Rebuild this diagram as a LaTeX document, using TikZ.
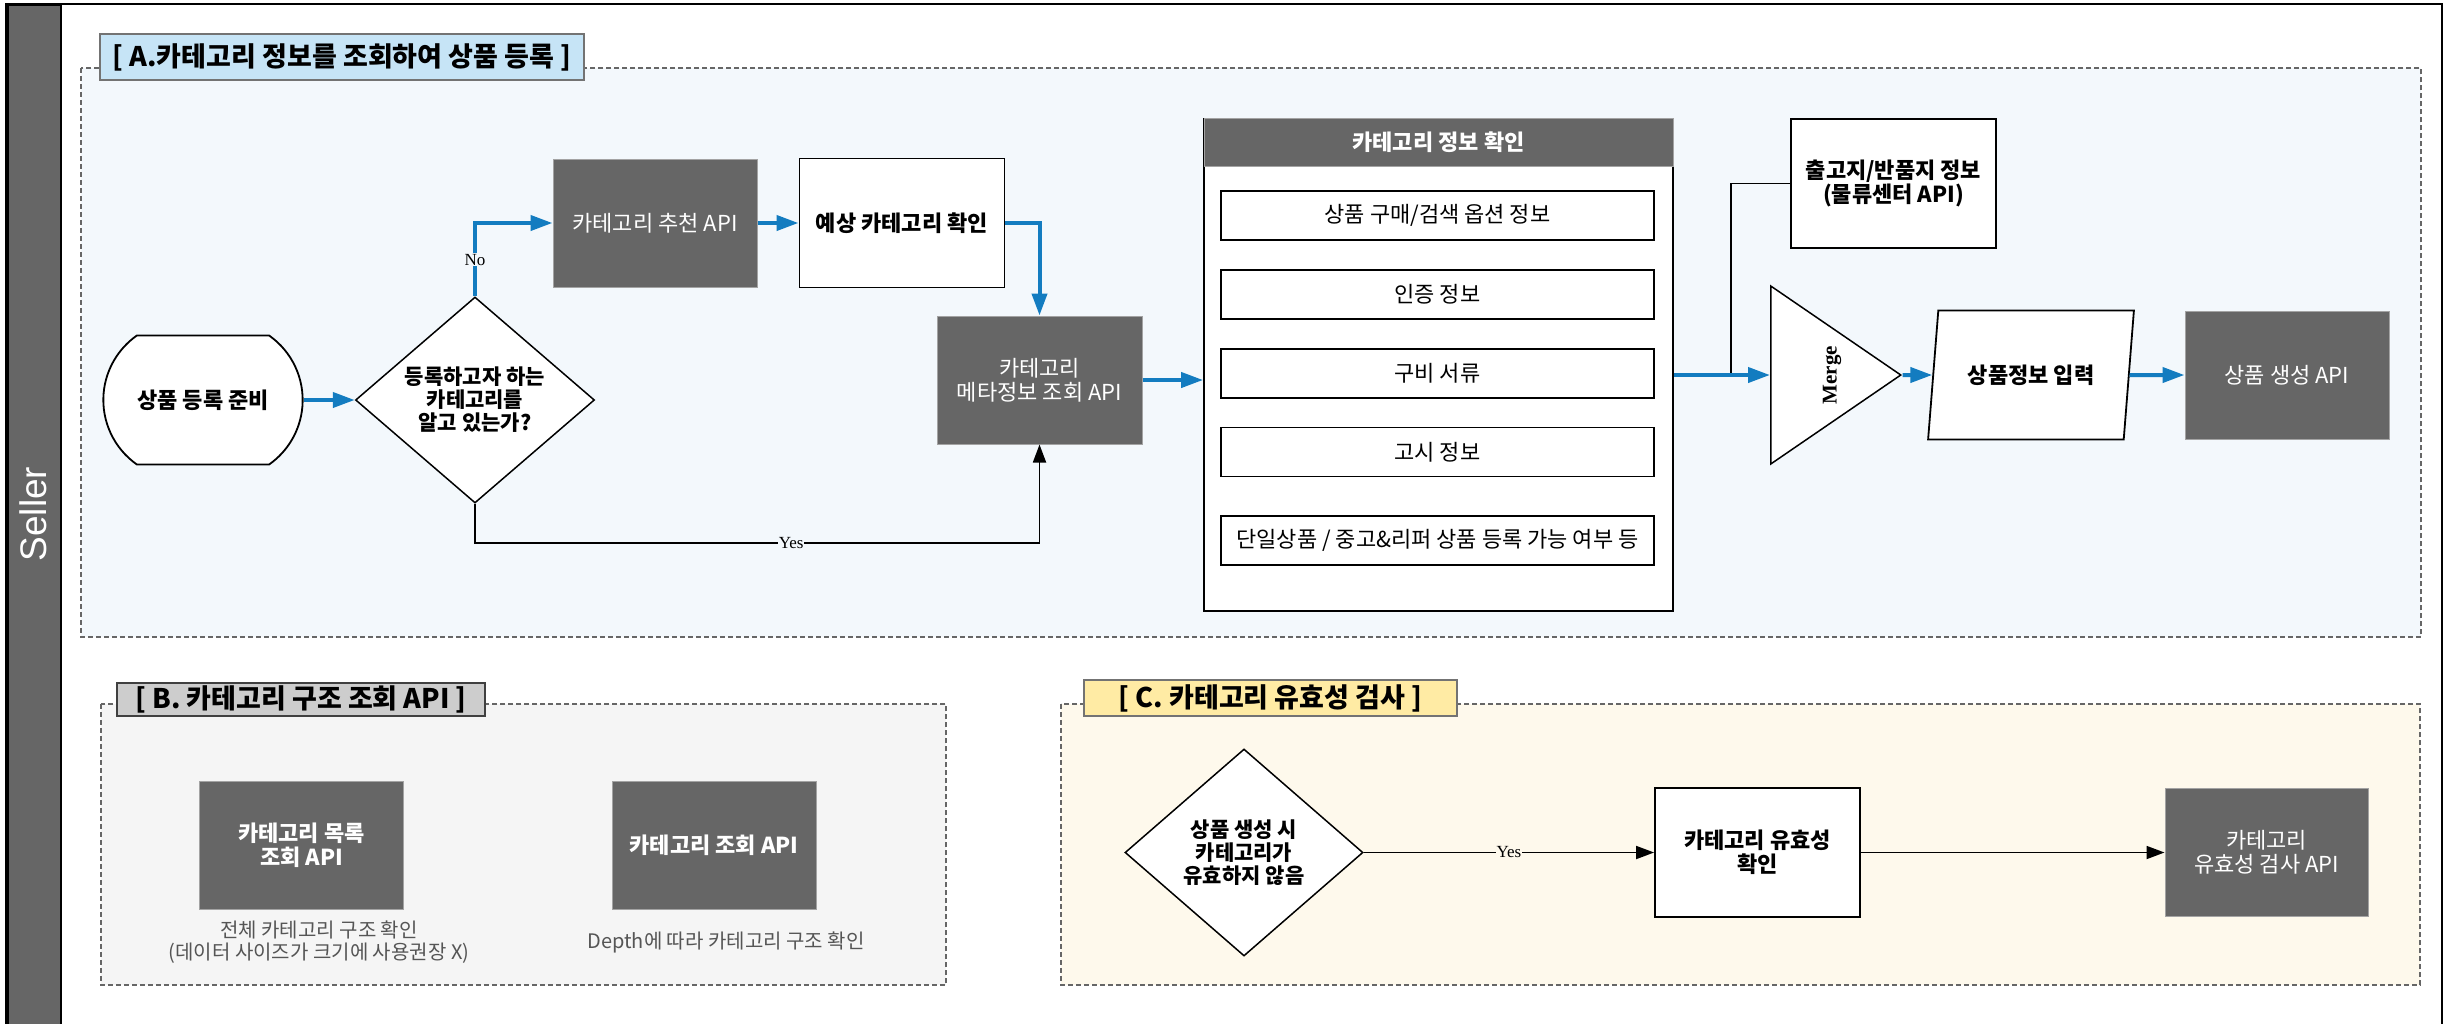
\documentclass[tikz,border=0pt]{standalone}
\usepackage{fontspec}
\setmainfont{Noto Sans CJK KR}
\newfontfamily\labelfont{Liberation Serif}
\newfontfamily\lanefont{Liberation Sans}
\usetikzlibrary{positioning, shapes.geometric, shapes.misc, arrows.meta}

\definecolor{apigray}{HTML}{666666}
\definecolor{flowblue}{HTML}{137CC0}
\definecolor{secAfill}{HTML}{F3F8FC}
\definecolor{secBfill}{HTML}{F5F5F5}
\definecolor{secCfill}{HTML}{FEF9EC}
\definecolor{titleAfill}{HTML}{C6E4F6}
\definecolor{titleBfill}{HTML}{CDCDCD}
\definecolor{titleCfill}{HTML}{FFEBA4}
\definecolor{captgray}{HTML}{555555}

\begin{document}
\begin{tikzpicture}[x=1pt,y=-1pt,
    apibox/.style={rectangle, fill=apigray, draw=apigray!60, line width=1pt, text=white, align=center,
            minimum width=204, minimum height=128, font=\fontsize{22}{24}\selectfont},
    stepbox/.style={rectangle, fill=white, draw=black, line width=1.8pt, align=center,
            minimum width=205, minimum height=129, font=\bfseries\fontsize{22}{24}\selectfont},
    infoitem/.style={rectangle, fill=white, draw=black, line width=1.8pt,
            minimum width=433, minimum height=49, font=\fontsize{22}{24}\selectfont},
    decision/.style={diamond, aspect=1.16, fill=white, draw=black, line width=1.5pt, align=center, inner sep=0pt,
            minimum width=239, minimum height=206, font=\bfseries\fontsize{21}{23}\selectfont},
    blueflow/.style={-{Triangle[length=22pt,width=15pt]}, draw=flowblue, line width=4pt},
    blackflow/.style={-{Triangle[length=18pt,width=13pt]}, draw=black, line width=1.8pt},
    section/.style={draw=black!60, dash pattern=on 5pt off 3pt, line width=1.5pt},
    sectitle/.style={draw=black!55, line width=1.5pt, inner sep=0pt, font=\bfseries\fontsize{27}{29}\selectfont},
    caption/.style={text=captgray, align=center, font=\fontsize{20}{22}\selectfont},
    yesno/.style={inner sep=1pt, font=\labelfont\fontsize{17}{17}\selectfont}]

\useasboundingbox (0,0) rectangle (2445,1023);
\fill[white] (0,0) rectangle (2445,1023);

%Lane==================================================================
\draw[line width=2.5pt] (6,4) rectangle (2442,1040);
\node[fill=apigray, draw=black, line width=2pt, minimum width=53, minimum height=1040, anchor=north west, inner sep=0pt] (lane) at (7,4) {};
\node[rotate=90, text=white, font=\lanefont\fontsize{37}{37}\selectfont] (seller) at (33,514) {Seller};

%A=====================================================================
\draw[section, fill=secAfill] (81,68) rectangle (2421,637);
\node[sectitle, fill=titleAfill, minimum width=484, minimum height=46] (titleA) at (342,57) {[ A.카테고리 정보를 조회하여 상품 등록 ]};

\node[rounded rectangle, rounded rectangle arc length=110, fill=white, draw=black, line width=1.8pt,
      minimum width=206, minimum height=129, font=\bfseries\fontsize{22}{24}\selectfont] (prep) at (203,400) {상품 등록 준비};
\node[decision] (know) at (475,400) {등록하고자 하는\\카테고리를\\알고 있는가?};
\node[apibox] (rec) at (655,223) {카테고리 추천 API};
\node[stepbox, right=41pt of rec] (exp) {예상 카테고리 확인};
\node[apibox, minimum width=205] (meta) at (1039.5,380) {카테고리\\메타정보 조회 API};
\coordinate (yesturn) at (1039.5,543);

\node[draw=black, fill=white, line width=1.8pt, minimum width=469, minimum height=492] (infobox) at (1438.5,365) {};
\node[fill=apigray, draw=apigray!60, line width=1pt, text=white, minimum width=469, minimum height=48,
      font=\bfseries\fontsize{22}{24}\selectfont, anchor=north] (infohead) at (infobox.north) {카테고리 정보 확인};
\node[infoitem] (opt) at (1437.5,215.5) {상품 구매/검색 옵션 정보};
\node[infoitem, below=28pt of opt] (cert) {인증 정보};
\node[infoitem, below=28pt of cert] (docs) {구비 서류};
\node[infoitem, below=28pt of docs] (notice) {고시 정보};
\node[infoitem, below=38pt of notice] (usable) {단일상품 / 중고\&리퍼 상품 등록 가능 여부 등};

\node[stepbox] (ship) at (1893.5,183.5) {출고지/반품지 정보\\(물류센터 API)};
\node[isosceles triangle, isosceles triangle stretches, fill=white, draw=black, line width=1.5pt,
      minimum width=178, minimum height=130, inner sep=0pt, anchor=lower side] (merge) at (1770,375) {};
\node[rotate=90, font=\labelfont\bfseries\fontsize{21}{21}\selectfont] (mergetxt) at (1832,375) {Merge};
\coordinate (join) at (1731,375);
\node[trapezium, trapezium left angle=75, trapezium right angle=105, trapezium stretches=true, fill=white, draw=black,
      line width=1.8pt, minimum width=206, minimum height=129, font=\bfseries\fontsize{22}{24}\selectfont] (input) at (2031,375) {상품정보 입력};
\node[apibox] (create) at (2287,375) {상품 생성 API};

\draw[blueflow] (prep) -- (know);
\draw[blueflow] (know.north) |- node[pos=0.25, yesno, fill=secAfill]{No} (rec.west);
\draw[blueflow] (rec) -- (exp);
\draw[blueflow] (exp.east) -| (meta.north);
\draw[blackflow] (know.south) |- node[pos=0.78, yesno, fill=secAfill]{Yes} (yesturn) -- (meta.south);
\draw[blueflow] (meta.east) -- (meta.east -| infobox.west);
\draw[line width=1.5pt] (ship.west) -| (join);
\draw[blueflow] (infobox.east |- merge.lower side) -- (merge.lower side);
\draw[blueflow] (merge.apex) -- (input);
\draw[blueflow] (input) -- (create);
%======================================================================

%B=====================================================================
\draw[section, fill=secBfill] (101,704) rectangle (946,985);
\node[sectitle, fill=titleBfill, draw=black!75, minimum width=368, minimum height=33] (titleB) at (301,699.5) {[ B. 카테고리 구조 조회 API ]};
\node[apibox, font=\bfseries\fontsize{22}{24}\selectfont] (listapi) at (301.5,845) {카테고리 목록\\조회 API};
\node[apibox, font=\bfseries\fontsize{22}{24}\selectfont] (lookupapi) at (714,845) {카테고리 조회 API};
\node[caption] (listcap) at (319,942) {전체 카테고리 구조 확인\\(데이터 사이즈가 크기에 사용권장 X)};
\node[caption] (lookupcap) at (726,942) {Depth에 따라 카테고리 구조 확인};
%======================================================================

%C=====================================================================
\draw[section, fill=secCfill] (1061,704) rectangle (2420,985);
\node[sectitle, fill=titleCfill, minimum width=373, minimum height=36] (titleC) at (1270.5,698) {[ C. 카테고리 유효성 검사 ]};
\node[decision, minimum width=238, minimum height=207] (valid) at (1244,852.5) {상품 생성 시\\카테고리가\\유효하지 않음};
\node[stepbox] (check) at (1757.5,852.5) {카테고리 유효성\\확인};
\node[apibox, minimum width=203] (validapi) at (2266.5,852.5) {카테고리\\유효성 검사 API};

\draw[blackflow] (valid) -- node[yesno, fill=secCfill]{Yes} (check);
\draw[blackflow] (check) -- (validapi);
%======================================================================

\end{tikzpicture}
\end{document}
